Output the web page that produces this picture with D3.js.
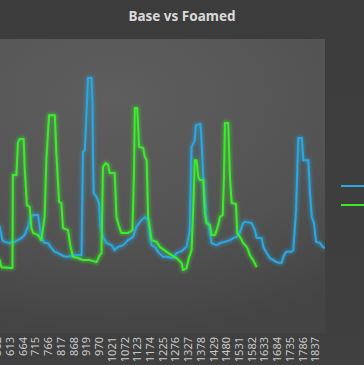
<!DOCTYPE html>
<html>
<head>
<meta charset="utf-8">
<script src="https://cdn.jsdelivr.net/npm/d3@7"></script>
<style>
  html, body { margin: 0; padding: 0; background: #3e3e3e; }
  svg { display: block; }
</style>
</head>
<body>
<svg id="chart"></svg>
<script>
let width = 364, height = 365;

// category axis: sample index 1..1877, labelled every 51
var categoryCount = 1877;
var tickLabels = [1, 52, 103, 154, 205, 256, 307, 358, 409, 460, 511, 562, 613, 664, 715, 766, 817, 868, 919, 970,
  1021, 1072, 1123, 1174, 1225, 1276, 1327, 1378, 1429, 1480, 1531, 1582, 1633, 1684, 1735, 1786, 1837];

// Base series (vertices where the trace changes)
var baseX = [565, 573, 584, 593, 613, 633, 646, 660, 673, 686, 700, 707, 727, 733, 740, 753, 767, 780, 794, 807,
  827, 841, 861, 887, 901, 907, 914, 923, 927, 941, 945, 947, 950, 961, 971, 977, 987, 1001, 1021, 1034,
  1048, 1068, 1088, 1108, 1121, 1135, 1155, 1168, 1175, 1182, 1195, 1208, 1228, 1242, 1268, 1282, 1295, 1308, 1322, 1335,
  1342, 1346, 1355, 1359, 1378, 1382, 1389, 1402, 1409, 1416, 1422, 1442, 1456, 1476, 1496, 1509, 1523, 1536, 1549, 1556,
  1583, 1596, 1603, 1623, 1630, 1643, 1656, 1670, 1683, 1703, 1710, 1721, 1743, 1750, 1761, 1770, 1784, 1790, 1810, 1817,
  1824, 1833, 1841, 1857, 1868, 1877];
var baseY = [37.1, 36.1, 31.6, 31.0, 30.6, 31.0, 31.6, 32.3, 33.3, 36.1, 39.5, 40.1, 40.1, 36.1, 32.7, 30.6, 30.6, 28.9, 27.6, 27.2,
  26.2, 25.9, 26.2, 26.5, 26.5, 61.6, 62.2, 78.2, 86.7, 86.7, 78.2, 59.9, 47.6, 46.3, 44.2, 36.1, 32.7, 30.6, 29.9, 28.2,
  29.3, 29.9, 31.6, 32.7, 36.1, 37.8, 39.5, 38.4, 32.7, 29.9, 29.3, 27.6, 25.9, 25.9, 25.5, 27.2, 27.6, 28.2, 29.3, 35.0,
  63.3, 63.9, 65.6, 70.7, 71.1, 65.6, 53.1, 38.4, 37.4, 34.0, 30.6, 29.9, 30.6, 31.0, 31.6, 32.3, 32.7, 34.4, 37.4, 37.8,
  37.4, 35.0, 32.3, 32.3, 29.3, 27.2, 25.5, 24.8, 24.1, 23.8, 25.9, 27.6, 27.6, 28.2, 41.8, 66.3, 66.3, 58.8, 58.8, 47.6,
  39.5, 37.4, 31.0, 30.6, 29.3, 28.9];

// Foamed series
var foamX = [565, 573, 580, 624, 626, 640, 646, 653, 669, 673, 682, 693, 700, 707, 727, 740, 753, 760, 771, 794,
  800, 811, 820, 827, 847, 857, 867, 887, 907, 934, 961, 974, 981, 987, 998, 1008, 1014, 1034, 1041, 1052,
  1061, 1088, 1105, 1111, 1115, 1124, 1132, 1148, 1155, 1162, 1168, 1182, 1202, 1215, 1242, 1262, 1282, 1302, 1308, 1322,
  1329, 1342, 1349, 1355, 1362, 1369, 1375, 1389, 1395, 1402, 1416, 1422, 1436, 1449, 1456, 1467, 1472, 1476, 1489, 1496,
  1503, 1520, 1525, 1536, 1549, 1563, 1569, 1576, 1589, 1603];
var foamY = [25.5, 24.8, 22.4, 22.1, 53.7, 53.7, 64.6, 66.0, 66.0, 56.5, 43.5, 42.9, 35.7, 34.0, 33.3, 31.6, 39.5, 58.8, 74.1, 74.1,
  61.2, 44.6, 44.2, 35.7, 35.0, 29.3, 25.9, 25.5, 24.8, 24.8, 24.1, 26.5, 27.2, 56.5, 57.8, 57.1, 54.4, 54.4, 39.5, 36.1,
  34.0, 34.0, 35.0, 53.1, 76.5, 76.5, 63.3, 62.9, 59.9, 58.8, 39.5, 31.6, 31.0, 29.3, 27.6, 26.5, 25.5, 23.8, 21.4, 22.1,
  24.8, 28.2, 42.9, 58.8, 58.8, 53.1, 52.0, 52.0, 40.8, 37.4, 36.7, 33.3, 33.3, 36.7, 39.5, 40.1, 53.1, 71.4, 71.4, 53.1,
  44.2, 43.9, 34.0, 32.7, 30.6, 29.3, 28.2, 26.5, 24.8, 22.4];

var seriesNames = ["Base", "Foamed"];
var seriesColors = ["#2ba8e2", "#3cec2c"];

var plot = { left: -143, right: 325, top: 39, bottom: 333 };

let svg = d3.select("#chart")
  .attr("width", width)
  .attr("height", height)
  .attr("viewBox", [0, 0, width, height]);

var defs = svg.append("defs");

var bgGrad = defs.append("linearGradient").attr("id", "bgGrad")
  .attr("x1", 0).attr("y1", 0).attr("x2", 0).attr("y2", 1);
bgGrad.append("stop").attr("offset", "0%").attr("stop-color", "#3c3c3c");
bgGrad.append("stop").attr("offset", "100%").attr("stop-color", "#404040");

var plotGrad = defs.append("radialGradient").attr("id", "plotGrad")
  .attr("cx", "55%").attr("cy", "20%").attr("r", "80%");
plotGrad.append("stop").attr("offset", "0%").attr("stop-color", "#5e5e5e");
plotGrad.append("stop").attr("offset", "60%").attr("stop-color", "#535353");
plotGrad.append("stop").attr("offset", "100%").attr("stop-color", "#444444");

var glow = defs.append("filter").attr("id", "glow")
  .attr("x", "-5%").attr("y", "-10%").attr("width", "110%").attr("height", "120%");
glow.append("feGaussianBlur").attr("stdDeviation", 1.8);

defs.append("clipPath").attr("id", "plotClip")
  .append("rect")
  .attr("x", plot.left).attr("y", plot.top)
  .attr("width", plot.right - plot.left).attr("height", plot.bottom - plot.top);

// chart + plot area backgrounds
svg.append("rect").attr("width", width).attr("height", height).attr("fill", "url(#bgGrad)");
svg.append("rect")
  .attr("x", plot.left).attr("y", plot.top)
  .attr("width", plot.right - plot.left).attr("height", plot.bottom - plot.top)
  .attr("fill", "url(#plotGrad)");

// title
svg.append("text")
  .attr("x", 182).attr("y", 21)
  .attr("text-anchor", "middle")
  .attr("font-family", "'Noto Sans', 'Open Sans', sans-serif")
  .attr("font-weight", "bold")
  .attr("font-size", 13.5)
  .attr("fill", "#d9d9d9")
  .text("Base vs Foamed");

// scales
var x = d3.scaleLinear().domain([1, categoryCount]).range([plot.left, plot.right]);
var y = d3.scaleLinear().domain([0, 100]).range([plot.bottom, plot.top]);

// only the labels that fall inside the cropped view get drawn
var shownTicks = tickLabels.filter(d => x(d) > -6);

// category axis with vertical labels
svg.append("g")
  .attr("transform", `translate(0,${plot.bottom})`)
  .call(d3.axisBottom(x).tickValues(shownTicks).tickSize(0).tickFormat(d3.format("d")))
  .call(g => g.select(".domain").remove())
  .call(g => g.selectAll("text")
    .attr("transform", "rotate(-90)")
    .attr("text-anchor", "end")
    .attr("x", -4)
    .attr("y", 0)
    .attr("dy", "0.35em")
    .attr("font-family", "'Noto Sans', 'Open Sans', sans-serif")
    .attr("font-size", 11)
    .attr("fill", "#c8c8c8"));

// lines
var series = [
  { name: seriesNames[0], color: seriesColors[0], pts: d3.zip(baseX, baseY) },
  { name: seriesNames[1], color: seriesColors[1], pts: d3.zip(foamX, foamY) }
];

var line = d3.line()
  .x(d => x(d[0]))
  .y(d => y(d[1]));

var lineG = svg.append("g").attr("clip-path", "url(#plotClip)");

series.forEach(s => {
  lineG.append("path")
    .attr("d", line(s.pts))
    .attr("fill", "none")
    .attr("stroke", s.color)
    .attr("stroke-width", 5)
    .attr("stroke-opacity", 0.4)
    .attr("stroke-linejoin", "round")
    .attr("filter", "url(#glow)");
});
series.forEach(s => {
  lineG.append("path")
    .attr("d", line(s.pts))
    .attr("fill", "none")
    .attr("stroke", s.color)
    .attr("stroke-width", 2)
    .attr("stroke-linejoin", "round");
});

// legend keys (names sit past the right edge of the crop)
var legend = svg.append("g").attr("transform", "translate(341,186)");
series.forEach((s, i) => {
  legend.append("line")
    .attr("x1", 0).attr("x2", 26)
    .attr("y1", i * 19).attr("y2", i * 19)
    .attr("stroke", s.color).attr("stroke-width", 2);
});
</script>
</body>
</html>
